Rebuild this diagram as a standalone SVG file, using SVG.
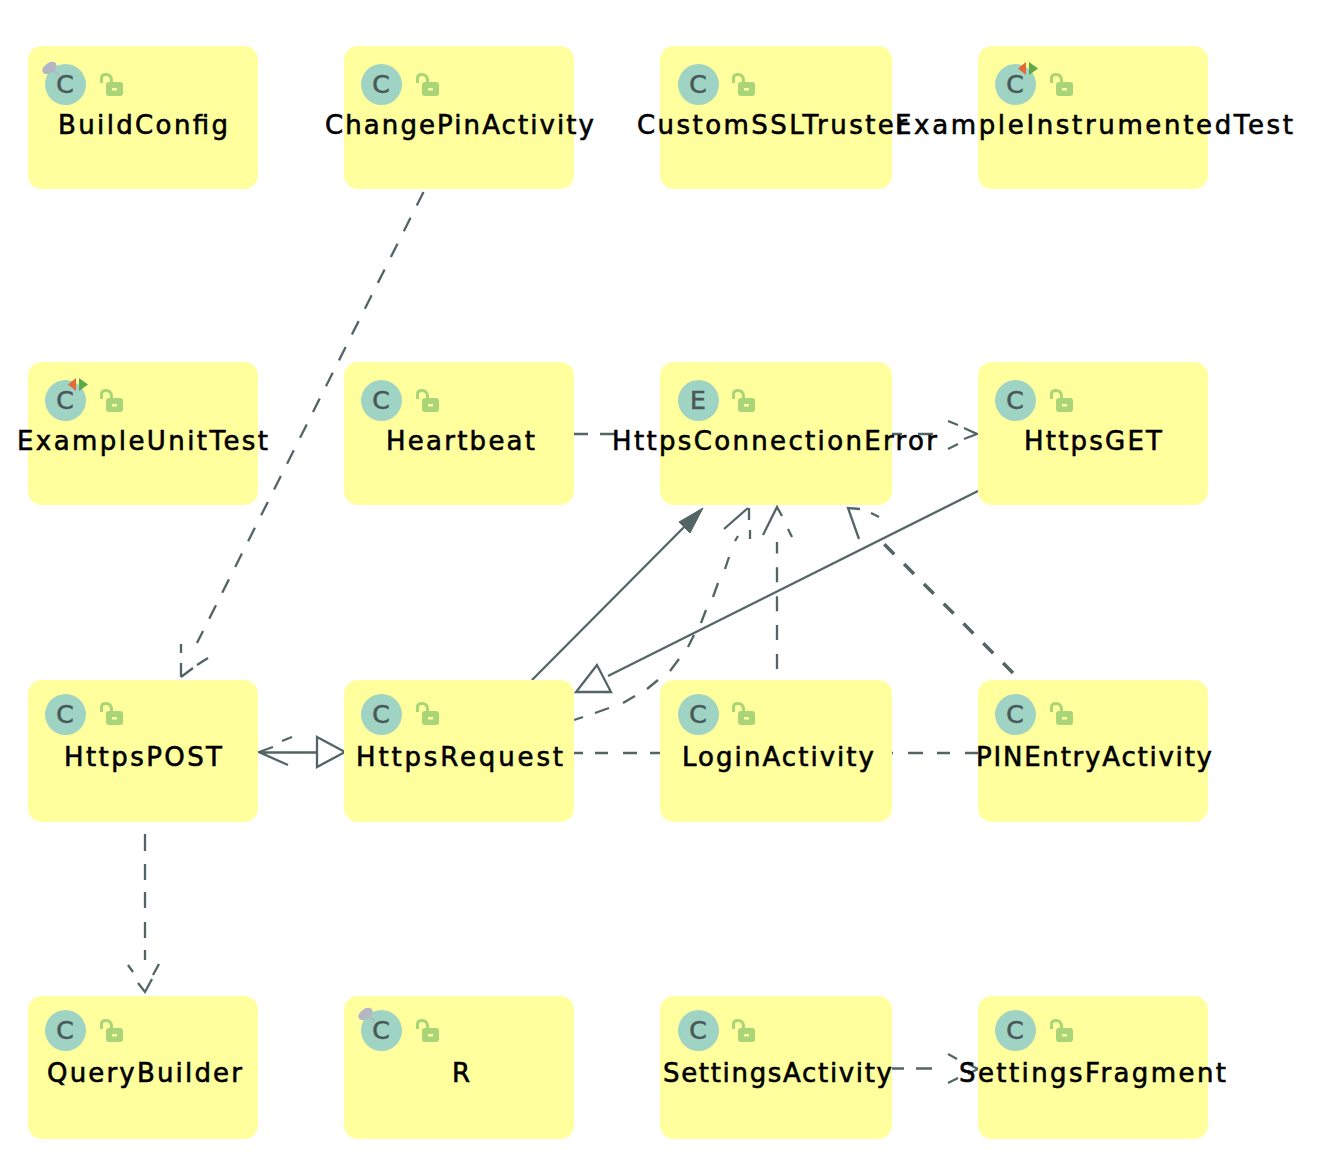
<svg xmlns="http://www.w3.org/2000/svg" width="1334" height="1174" viewBox="0 0 1334 1174">
<style>
.box{fill:#ffff9e}
.ic{fill:#9fd3c4}
.il{font:25px "DejaVu Sans",sans-serif;fill:#4a5858;stroke:#4a5858;stroke-width:.6;text-anchor:middle}
.lb{font:26px "DejaVu Sans",sans-serif;fill:#000;stroke:#000;stroke-width:.6}
.lk{fill:#a9d478}
.sh{fill:none;stroke:#a9d478;stroke-width:3}
.c{fill:none;stroke:#536464;stroke-width:2.300}
.d{stroke-dasharray:15 13.900}
.t{stroke-width:3.500;stroke-dasharray:14 14}
</style>
<defs>
<g id="lock"><path class="sh" d="M101.500 83V78Q101.500 74.500 106 74.500Q111 74.500 111.500 80V85"/><rect class="lk" x="106" y="82" width="17" height="14" rx="3"/><rect x="112" y="88" width="5" height="2.500" fill="#ffff9e"/></g>
<g id="pin"><ellipse cx="49.500" cy="68" rx="8" ry="5" transform="rotate(-35 49.500 68)" fill="#b4b6c4"/><path d="M52 70L59 75" stroke="#b4b6c4" stroke-width="2"/></g>
<g id="tst"><path d="M0 6.500L8 0V13Z" fill="#e26a36"/><path d="M11 0L20 6.500L11 13Z" fill="#5ea84a"/></g>
</defs>
<g id="connectors">
<path class="c d" d="M423.500 192L197 643"/>
<path class="c" d="M181 677V663M181 653V644M181 677L193 668M197 665L208 658"/>
<path class="c" d="M574 434H588M600 434H615M892 434H902M918 434H933M948 421L958 425M964 428L977 434L964 439M948 449L958 444"/>
<path class="c" d="M532 680L700 511"/>
<path d="M703 508L679 522L690 533Z" fill="#536464" stroke="#536464"/>
<path class="c" d="M978 491L608 676"/>
<path class="c" d="M597 665L576 692H611Z"/>
<path class="c" d="M574 720L583 717M595 713L609 708M623 703L635 696M647 689L658 680M670 671L679 659M688 647L694 635M701 623L706 610M713 597L718 583M725 569L729 557M735 541L738 536M724 529L748 508M749 508L749 520M750 530V539"/>
<path class="c d" d="M777 669V542"/>
<path class="c" d="M763 535L777 507L782 516M788 529L792 537"/>
<path class="c t" d="M1013 673L880 540"/>
<path class="c" d="M859 539L848 508L860 509M871 513L879 517"/>
<path class="c" d="M574 753H583M595 753H608M623 753H637M650 753H660M892 753H893M908 753H923M937 753H950M965 753H978"/>
<path class="c" d="M259 752.500H317M317 737L345 752L317 767ZM288 765L259 752L273 747M282 741L292 737"/>
<path class="c" d="M145 834V851M145 864V880M145 892V908M145 922V938M145 950V960M128 965L133 972M138 983L145 992L152 979M153 975L159 964"/>
<path class="c" d="M892 1068.500H904M916 1068.500H932M948 1054L957 1059M968 1064L978 1069L968 1074M958 1078L948 1083"/>
</g>
<g id="BuildConfig"><rect class="box" x="28" y="46" width="230" height="143" rx="14"/><circle class="ic" cx="65.500" cy="84.500" r="20.500"/><use href="#pin"/><text class="il" x="65" y="93">C</text><use href="#lock"/><text class="lb" x="58" y="134" textLength="170" lengthAdjust="spacing">BuildConfig</text></g>
<g id="ChangePinActivity"><rect class="box" x="344" y="46" width="230" height="143" rx="14"/><circle class="ic" cx="381.500" cy="84.500" r="20.500"/><text class="il" x="381" y="93">C</text><use href="#lock" x="316"/><text class="lb" x="325" y="134" textLength="269" lengthAdjust="spacing">ChangePinActivity</text></g>
<g id="CustomSSLTruster"><rect class="box" x="660" y="46" width="232" height="143" rx="14"/><circle class="ic" cx="698.500" cy="84.500" r="20.500"/><text class="il" x="698" y="93">C</text><use href="#lock" x="632"/><text class="lb" x="637" y="134" textLength="270" lengthAdjust="spacing">CustomSSLTruster</text></g>
<g id="ExampleInstrumentedTest"><rect class="box" x="978" y="46" width="230" height="143" rx="14"/><circle class="ic" cx="1015.500" cy="84.500" r="20.500"/><text class="il" x="1015" y="93">C</text><use href="#tst" x="1018" y="62"/><use href="#lock" x="950"/><text class="lb" x="895" y="134" textLength="398" lengthAdjust="spacing">ExampleInstrumentedTest</text></g>
<g id="ExampleUnitTest"><rect class="box" x="28" y="362" width="230" height="143" rx="14"/><circle class="ic" cx="65.500" cy="400.500" r="20.500"/><text class="il" x="65" y="409">C</text><use href="#tst" x="68" y="378"/><use href="#lock" y="316"/><text class="lb" x="17" y="450" textLength="251" lengthAdjust="spacing">ExampleUnitTest</text></g>
<g id="Heartbeat"><rect class="box" x="344" y="362" width="230" height="143" rx="14"/><circle class="ic" cx="381.500" cy="400.500" r="20.500"/><text class="il" x="381" y="409">C</text><use href="#lock" x="316" y="316"/><text class="lb" x="386" y="450" textLength="149" lengthAdjust="spacing">Heartbeat</text></g>
<g id="HttpsConnectionError"><rect class="box" x="660" y="362" width="232" height="143" rx="14"/><circle class="ic" cx="698.500" cy="400.500" r="20.500"/><text class="il" x="698" y="409">E</text><use href="#lock" x="632" y="316"/><text class="lb" x="612" y="450" textLength="325" lengthAdjust="spacing">HttpsConnectionError</text></g>
<g id="HttpsGET"><rect class="box" x="978" y="362" width="230" height="143" rx="14"/><circle class="ic" cx="1015.500" cy="400.500" r="20.500"/><text class="il" x="1015" y="409">C</text><use href="#lock" x="950" y="316"/><text class="lb" x="1024" y="450" textLength="138" lengthAdjust="spacing">HttpsGET</text></g>
<g id="HttpsPOST"><rect class="box" x="28" y="680" width="230" height="142" rx="14"/><circle class="ic" cx="65.500" cy="714.500" r="20.500"/><text class="il" x="65" y="723">C</text><use href="#lock" y="629"/><text class="lb" x="64" y="766" textLength="158" lengthAdjust="spacing">HttpsPOST</text></g>
<g id="HttpsRequest"><rect class="box" x="344" y="680" width="230" height="142" rx="14"/><circle class="ic" cx="381.500" cy="714.500" r="20.500"/><text class="il" x="381" y="723">C</text><use href="#lock" x="316" y="629"/><text class="lb" x="356" y="766" textLength="207" lengthAdjust="spacing">HttpsRequest</text></g>
<g id="LoginActivity"><rect class="box" x="660" y="680" width="232" height="142" rx="14"/><circle class="ic" cx="698.500" cy="714.500" r="20.500"/><text class="il" x="698" y="723">C</text><use href="#lock" x="632" y="629"/><text class="lb" x="682" y="766" textLength="192" lengthAdjust="spacing">LoginActivity</text></g>
<g id="PINEntryActivity"><rect class="box" x="978" y="680" width="230" height="142" rx="14"/><circle class="ic" cx="1015.500" cy="714.500" r="20.500"/><text class="il" x="1015" y="723">C</text><use href="#lock" x="950" y="629"/><text class="lb" x="976" y="766" textLength="236" lengthAdjust="spacing">PINEntryActivity</text></g>
<g id="QueryBuilder"><rect class="box" x="28" y="996" width="230" height="143" rx="14"/><circle class="ic" cx="65.500" cy="1030.500" r="20.500"/><text class="il" x="65" y="1039">C</text><use href="#lock" y="946"/><text class="lb" x="47" y="1082" textLength="195" lengthAdjust="spacing">QueryBuilder</text></g>
<g id="R"><rect class="box" x="344" y="996" width="230" height="143" rx="14"/><circle class="ic" cx="381.500" cy="1030.500" r="20.500"/><use href="#pin" x="316" y="946"/><text class="il" x="381" y="1039">C</text><use href="#lock" x="316" y="946"/><text class="lb" x="452" y="1082" textLength="19" lengthAdjust="spacing">R</text></g>
<g id="SettingsActivity"><rect class="box" x="660" y="996" width="232" height="143" rx="14"/><circle class="ic" cx="698.500" cy="1030.500" r="20.500"/><text class="il" x="698" y="1039">C</text><use href="#lock" x="632" y="946"/><text class="lb" x="663" y="1082" textLength="229" lengthAdjust="spacing">SettingsActivity</text></g>
<g id="SettingsFragment"><rect class="box" x="978" y="996" width="230" height="143" rx="14"/><circle class="ic" cx="1015.500" cy="1030.500" r="20.500"/><text class="il" x="1015" y="1039">C</text><use href="#lock" x="950" y="946"/><text class="lb" x="959" y="1082" textLength="267" lengthAdjust="spacing">SettingsFragment</text></g>
</svg>
